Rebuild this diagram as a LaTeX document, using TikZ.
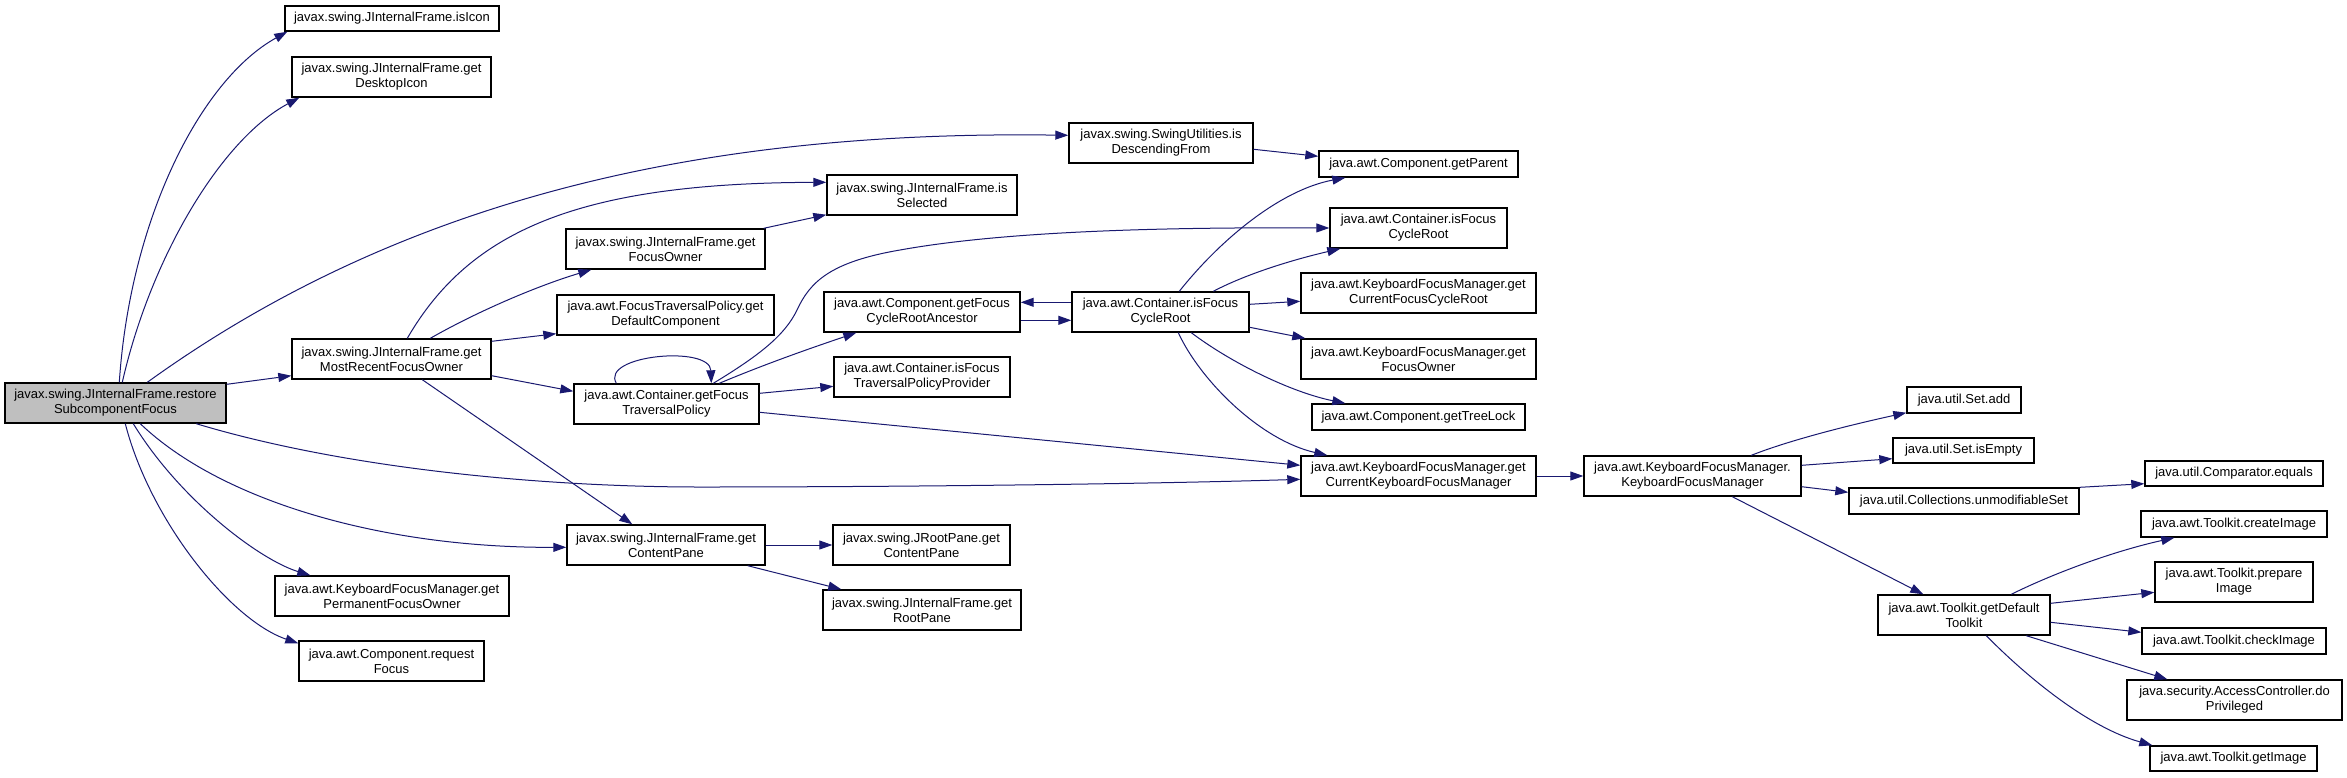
\documentclass[tikz,border=0pt]{standalone}
\usepackage{fontspec}
\setmainfont{Liberation Sans}
\usetikzlibrary{arrows.meta}
\definecolor{edgecol}{RGB}{25,25,112}
\definecolor{rootfill}{RGB}{191,191,191}
\newcommand\mkbox[7][]{\node[fnbox,#1,minimum width={(#5-#3)*1pt},minimum height={(#6-#4)*1pt}] (#2) at ({(#3+#5)/2},{(#4+#6)/2}) {#7};}
\tikzset{
  fnbox/.style={draw=black, line width=1.4pt, fill=white, inner sep=0pt, align=center,
    font=\fontsize{13}{15}\selectfont},
  rootbox/.style={fill=rootfill},
  calledge/.style={draw=edgecol, line width=1pt, -{Triangle[length=13pt,width=9pt,fill=edgecol]}},
}
\begin{document}
\begin{tikzpicture}[x=1pt,y=-1pt]
\useasboundingbox[fill=white] (0,0) rectangle (2347,777);
% nodes
\mkbox[rootbox]{restore}{5}{383}{226}{423}{javax.swing.JInternalFrame.restore\\SubcomponentFocus}
\mkbox{isIcon}{285}{6}{499}{31}{javax.swing.JInternalFrame.isIcon}
\mkbox{getDesktopIcon}{292}{57}{491}{97}{javax.swing.JInternalFrame.get\\DesktopIcon}
\mkbox{mostRecent}{292}{339}{491}{379}{javax.swing.JInternalFrame.get\\MostRecentFocusOwner}
\mkbox{jifFocusOwner}{566}{229}{765}{269}{javax.swing.JInternalFrame.get\\FocusOwner}
\mkbox{isSelected}{827}{175}{1017}{215}{javax.swing.JInternalFrame.is\\Selected}
\mkbox{isDescendingFrom}{1069}{123}{1253}{163}{javax.swing.SwingUtilities.is\\DescendingFrom}
\mkbox{getParent}{1319}{151}{1518}{177}{java.awt.Component.getParent}
\mkbox{isFCRb}{1330}{208}{1507}{248}{java.awt.Container.isFocus\\CycleRoot}
\mkbox{getDefaultComponent}{557}{295}{774}{335}{java.awt.FocusTraversalPolicy.get\\DefaultComponent}
\mkbox{getFTP}{574}{384}{759}{424}{java.awt.Container.getFocus\\TraversalPolicy}
\mkbox{getFCRA}{824}{292}{1020}{332}{java.awt.Component.getFocus\\CycleRootAncestor}
\mkbox{isFTPP}{834}{357}{1010}{397}{java.awt.Container.isFocus\\TraversalPolicyProvider}
\mkbox{isFCR}{1072}{292}{1249}{332}{java.awt.Container.isFocus\\CycleRoot}
\mkbox{getCurFCR}{1301}{273}{1536}{313}{java.awt.KeyboardFocusManager.get\\CurrentFocusCycleRoot}
\mkbox{kfmFocusOwner}{1301}{339}{1536}{379}{java.awt.KeyboardFocusManager.get\\FocusOwner}
\mkbox{getTreeLock}{1312}{404}{1525}{430}{java.awt.Component.getTreeLock}
\mkbox{getCurKFM}{1301}{456}{1536}{496}{java.awt.KeyboardFocusManager.get\\CurrentKeyboardFocusManager}
\mkbox{kfmCtor}{1584}{456}{1801}{496}{java.awt.KeyboardFocusManager.\\KeyboardFocusManager}
\mkbox{setAdd}{1907}{387}{2021}{413}{java.util.Set.add}
\mkbox{setIsEmpty}{1893}{438}{2034}{463}{java.util.Set.isEmpty}
\mkbox{unmodSet}{1849}{488}{2079}{514}{java.util.Collections.unmodifiableSet}
\mkbox{compEquals}{2145}{461}{2323}{486}{java.util.Comparator.equals}
\mkbox{getDefTk}{1878}{595}{2050}{635}{java.awt.Toolkit.getDefault\\Toolkit}
\mkbox{createImage}{2141}{511}{2327}{537}{java.awt.Toolkit.createImage}
\mkbox{prepareImage}{2155}{562}{2313}{602}{java.awt.Toolkit.prepare\\Image}
\mkbox{checkImage}{2142}{628}{2326}{654}{java.awt.Toolkit.checkImage}
\mkbox{doPriv}{2127}{680}{2342}{720}{java.security.AccessController.do\\Privileged}
\mkbox{getImage}{2150}{746}{2317}{771}{java.awt.Toolkit.getImage}
\mkbox{jifContentPane}{567}{525}{765}{565}{javax.swing.JInternalFrame.get\\ContentPane}
\mkbox{jrpContentPane}{833}{525}{1010}{565}{javax.swing.JRootPane.get\\ContentPane}
\mkbox{jifRootPane}{823}{590}{1021}{630}{javax.swing.JInternalFrame.get\\RootPane}
\mkbox{permFocusOwner}{275}{576}{509}{616}{java.awt.KeyboardFocusManager.get\\PermanentFocusOwner}
\mkbox{requestFocus}{299}{641}{484}{681}{java.awt.Component.request\\Focus}
% edges from restore
\draw[calledge] ([xshift=115pt]restore.north west) .. controls (130,220) and (200,80) .. ([xshift=3pt]isIcon.south west);
\draw[calledge] ([xshift=118pt]restore.north west) .. controls (150,260) and (220,140) .. ([xshift=8pt]getDesktopIcon.south west);
\draw[calledge] ([xshift=143pt]restore.north west) .. controls (400,200) and (700,130) .. ([yshift=-13pt]isDescendingFrom.north west);
\draw[calledge] ([yshift=-2pt]restore.north east) -- ([yshift=4pt]mostRecent.south west);
\draw[calledge] ([xshift=192pt]restore.south west) .. controls (350,470) and (550,487) .. (700,487) .. controls (900,487) and (1150,484) .. ([yshift=-24pt]getCurKFM.north west);
\draw[calledge] ([xshift=136pt]restore.south west) .. controls (220,500) and (380,548) .. ([yshift=-23pt]jifContentPane.north west);
\draw[calledge] ([xshift=129pt]restore.south west) .. controls (180,500) and (260,560) .. ([xshift=36pt]permFocusOwner.north west);
\draw[calledge] ([xshift=121pt]restore.south west) .. controls (150,520) and (230,620) .. ([yshift=-3pt]requestFocus.north west);
% edges from mostRecent
\draw[calledge] ([xshift=116pt]mostRecent.north west) .. controls (470,230) and (580,183) .. ([yshift=-8pt]isSelected.north west);
\draw[calledge] ([xshift=139pt]mostRecent.north west) .. controls (480,310) and (540,285) .. ([xshift=26pt]jifFocusOwner.south west);
\draw[calledge] ([yshift=-3pt]mostRecent.north east) -- ([yshift=2pt]getDefaultComponent.south west);
\draw[calledge] ([yshift=4pt]mostRecent.south east) -- ([yshift=-8pt]getFTP.north west);
\draw[calledge] ([xshift=131pt]mostRecent.south west) -- ([xshift=66pt]jifContentPane.north west);
% jifFocusOwner
\draw[calledge] ([xshift=-2pt]jifFocusOwner.north east) -- ([yshift=1pt]isSelected.south west);
% getFTP
\draw[calledge] ([xshift=43pt]getFTP.north west) .. controls (600,355) and (710,345) .. ([xshift=138pt]getFTP.north west);
\draw[calledge] ([xshift=140pt]getFTP.north west) .. controls (760,355) and (785,335) .. (797,310) .. controls (810,282) and (830,262) .. (900,250) .. controls (1000,232) and (1150,227) .. (isFCRb.west);
\draw[calledge] ([xshift=146pt]getFTP.north west) .. controls (770,362) and (820,345) .. ([xshift=33pt]getFCRA.south west);
\draw[calledge] ([yshift=-10pt]getFTP.north east) -- ([yshift=-30pt]isFTPP.north west);
\draw[calledge] ([yshift=-29pt]getFTP.north east) -- ([yshift=-10pt]getCurKFM.north west);
% getFCRA / isFCR
\draw[calledge] ([yshift=-29pt]getFCRA.north east) -- ([yshift=-29pt]isFCR.north west);
\draw[calledge] ([yshift=-11pt]isFCR.north west) -- ([yshift=-11pt]getFCRA.north east);
\draw[calledge] ([xshift=108pt]isFCR.north west) .. controls (1220,240) and (1280,190) .. ([xshift=27pt]getParent.south west);
\draw[calledge] ([xshift=142pt]isFCR.north west) .. controls (1250,272) and (1300,258) .. ([xshift=11pt]isFCRb.south west);
\draw[calledge] ([yshift=-13pt]isFCR.north east) -- ([yshift=-29pt]getCurFCR.north west);
\draw[calledge] ([yshift=-36pt]isFCR.north east) -- ([xshift=5pt]kfmFocusOwner.north west);
\draw[calledge] ([xshift=120pt]isFCR.south west) .. controls (1230,362) and (1290,392) .. ([xshift=34pt]getTreeLock.north west);
\draw[calledge] ([xshift=107pt]isFCR.south west) .. controls (1200,380) and (1260,440) .. ([xshift=27pt]getCurKFM.north west);
% isDescendingFrom
\draw[calledge] ([yshift=-27pt]isDescendingFrom.north east) -- ([yshift=-6pt]getParent.north west);
% KFM chain
\draw[calledge] (getCurKFM.east) -- (kfmCtor.west);
\draw[calledge] ([xshift=168pt]kfmCtor.north west) .. controls (1790,440) and (1850,425) .. ([yshift=1pt]setAdd.south west);
\draw[calledge] ([yshift=-10pt]kfmCtor.north east) -- ([yshift=5pt]setIsEmpty.south west);
\draw[calledge] ([yshift=10pt]kfmCtor.south east) -- ([yshift=-5pt]unmodSet.north west);
\draw[calledge] ([xshift=149pt]kfmCtor.south west) -- ([xshift=46pt]getDefTk.north west);
\draw[calledge] (unmodSet.north east) -- ([yshift=3pt]compEquals.south west);
% Toolkit
\draw[calledge] ([xshift=134pt]getDefTk.north west) .. controls (2050,575) and (2110,552) .. ([xshift=34pt]createImage.south west);
\draw[calledge] ([yshift=-9pt]getDefTk.north east) -- ([yshift=-31pt]prepareImage.north west);
\draw[calledge] ([yshift=-28pt]getDefTk.north east) -- ([yshift=-5pt]checkImage.north west);
\draw[calledge] ([xshift=149pt]getDefTk.south west) -- ([xshift=41pt]doPriv.north west);
\draw[calledge] ([xshift=109pt]getDefTk.south west) .. controls (2030,680) and (2090,728) .. ([xshift=3pt]getImage.north west);
% content pane
\draw[calledge] (jifContentPane.east) -- (jrpContentPane.west);
\draw[calledge] ([xshift=-18pt]jifContentPane.south east) -- ([xshift=19pt]jifRootPane.north west);
\end{tikzpicture}
\end{document}
